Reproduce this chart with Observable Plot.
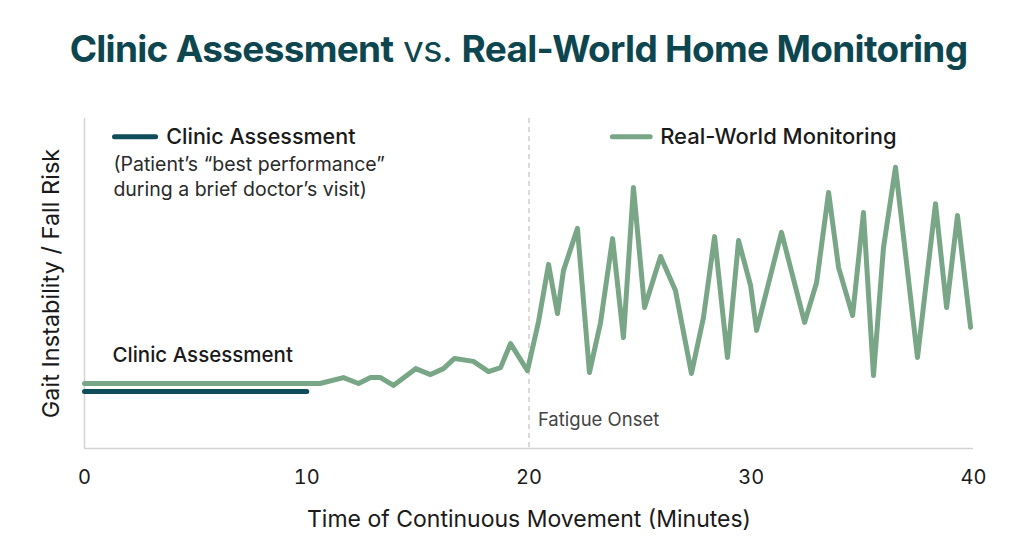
<!DOCTYPE html>
<html>
<head>
<meta charset="utf-8">
<script src="https://cdn.jsdelivr.net/npm/d3@7"></script>
<script src="https://cdn.jsdelivr.net/npm/@observablehq/plot@0.6"></script>
<style>
  html, body { margin: 0; padding: 0; background: #fff; }
  body { width: 1024px; height: 559px; overflow: hidden; font-family: "Inter", sans-serif; }
  #title { height: 90px; box-sizing: border-box; padding-top: 27px; padding-left: 13px; text-align: center;
           font-size: 37px; color: #0e4650; letter-spacing: -0.7px; line-height: 44px; }
  #title b { font-weight: 700; }
  #title span { font-weight: 400; }
</style>
</head>
<body>
<div id="title"><b>Clinic Assessment</b><span> vs. </span><b>Real-World Home Monitoring</b></div>
<div id="chart"></div>
<script>
// ---- data ----
const minutes = [0, 10.6, 11.65, 12.33, 12.87, 13.32, 13.9, 14.9, 15.57, 16.15, 16.65, 17.5, 18.18, 18.72, 19.17, 19.93,
  20.43, 20.88, 21.28, 21.55, 22.18, 22.72, 23.22, 23.76, 24.25, 24.7, 25.2, 25.92, 26.59, 27.31, 27.85, 28.35, 28.93,
  29.43, 29.97, 30.24, 31.36, 32.4, 32.94, 33.48, 33.93, 34.56, 35.05, 35.5, 35.95, 36.49, 37.48, 38.29, 38.79, 39.28, 39.87];
const realWorld = [1.97, 1.97, 2.15, 1.97, 2.15, 2.15, 1.91, 2.42, 2.24, 2.42, 2.73, 2.64, 2.33, 2.45, 3.18, 2.36,
  3.85, 5.58, 4.09, 5.39, 6.67, 2.30, 3.82, 6.36, 3.36, 7.91, 4.27, 5.82, 4.79, 2.27, 3.97, 6.42, 2.76,
  6.30, 4.94, 3.58, 6.55, 3.82, 5.03, 7.76, 5.48, 4.03, 7.15, 2.21, 6.09, 8.52, 2.76, 7.42, 4.27, 7.06, 3.67];
const clinicMinutes = [0, 10];
const clinicValues = [1.73, 1.73];
const xTicks = [0, 10, 20, 30, 40];
const fatigueOnset = 20;
const seriesNames = ["Clinic Assessment", "Real-World Monitoring"];
const clinicNote = ["(Patient\u2019s \u201cbest performance\u201d", "during a brief doctor\u2019s visit)"];
const xLabel = "Time of Continuous Movement (Minutes)";
const yLabel = "Gait Instability / Fall Risk";

const teal = "#0f4d5a";
const green = "#79a687";

const realData = minutes.map((m, i) => ({m, v: realWorld[i]}));
const clinicData = clinicMinutes.map((m, i) => ({m, v: clinicValues[i]}));

const chart = Plot.plot({
  width: 1024,
  height: 469,
  marginTop: 28,
  marginBottom: 111,
  marginLeft: 84,
  marginRight: 51,
  style: {fontFamily: "Inter, sans-serif", fontSize: "22px", color: "#1a1a1a", background: "#fff"},
  x: {domain: [0, 40]},
  y: {domain: [0, 10]},
  marks: [
    Plot.ruleX([fatigueOnset], {stroke: "#b5b5b5", strokeDasharray: "5,4", strokeWidth: 1}),
    Plot.ruleY([0], {stroke: "#d2d2d2", strokeWidth: 1.5}),
    Plot.ruleX([0], {stroke: "#d2d2d2", strokeWidth: 1.5}),
    Plot.axisX({ticks: xTicks, tickSize: 0, tickPadding: 21, fontSize: 20, label: null}),
    Plot.axisX({ticks: [], tickSize: 0, fontSize: 23, label: xLabel,
      labelAnchor: "center", labelArrow: "none", labelOffset: 78}),
    Plot.axisY({ticks: [], tickSize: 0, fontSize: 23.5, label: yLabel, labelAnchor: "center", labelArrow: "none", labelOffset: 42}),
    Plot.line(clinicData, {x: "m", y: "v", stroke: teal, strokeWidth: 5, strokeLinecap: "round"}),
    Plot.line(realData, {x: "m", y: "v", stroke: green, strokeWidth: 5, strokeLinejoin: "round", strokeLinecap: "round"}),
    // legend
    Plot.line([{m: 1.35, v: 9.45}, {m: 3.2, v: 9.45}], {x: "m", y: "v", stroke: teal, strokeWidth: 5, strokeLinecap: "round"}),
    Plot.text([seriesNames[0]], {x: 3.68, y: 9.45, textAnchor: "start", fontSize: 21.5, fontWeight: 500, fill: "#1a1a1a"}),
    Plot.text(clinicNote, {x: 1.3, y: (d, i) => 8.6 - i * 0.76, textAnchor: "start", fontSize: 19.5, fill: "#2a2a2a"}),
    Plot.line([{m: 23.75, v: 9.45}, {m: 25.45, v: 9.45}], {x: "m", y: "v", stroke: green, strokeWidth: 5, strokeLinecap: "round"}),
    Plot.text([seriesNames[1]], {x: 25.9, y: 9.45, textAnchor: "start", fontSize: 22, fontWeight: 500, fill: "#1a1a1a"}),
    // annotations
    Plot.text([seriesNames[0]], {x: 1.26, y: 2.82, textAnchor: "start", fontSize: 20.5, fontWeight: 500, fill: "#1a1a1a"}),
    Plot.text(["Fatigue Onset"], {x: 20.4, y: 0.85, textAnchor: "start", fontSize: 18.5, fill: "#444"})
  ]
});
document.getElementById("chart").appendChild(chart);
</script>
</body>
</html>
